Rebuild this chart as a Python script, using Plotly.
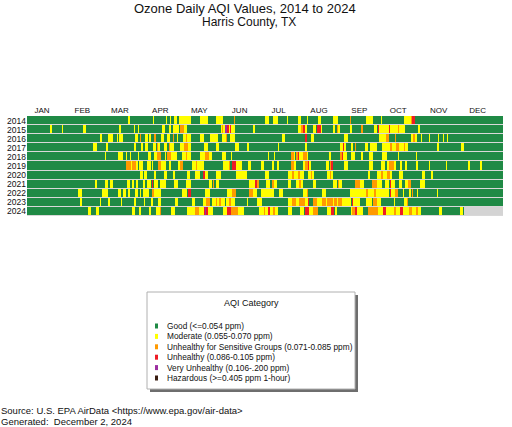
import plotly.graph_objects as go

W, H = 512, 427
FONT = "Liberation Sans, Arial, sans-serif"

years = ["2014", "2015", "2016", "2017", "2018", "2019", "2020", "2021", "2022", "2023", "2024"]
months = ["JAN", "FEB", "MAR", "APR", "MAY", "JUN", "JUL", "AUG", "SEP", "OCT", "NOV", "DEC"]
month_start = [1, 32, 61, 92, 122, 153, 183, 214, 245, 275, 306, 336]
n_days = 366

cat_codes = ["G", "M", "U", "R", "P", "H"]
cat_names = [
    "Good (<=0.054 ppm)",
    "Moderate (0.055-0.070 ppm)",
    "Unhealthy for Sensitive Groups (0.071-0.085 ppm)",
    "Unhealthy (0.086-0.105 ppm)",
    "Very Unhealthy (0.106-.200 ppm)",
    "Hazardous (>=0.405 ppm 1-hour)",
]
cat_colors = ["#1f8a45", "#ffff00", "#ff9a00", "#ee1c25", "#9c2fa0", "#3a1d10"]
missing_color = "#d4d4d4"

# days (day of year) that were not "Good"; everything else is Good
ep_2014 = ("79M 98M 108M 111M 114-115M 118-119M 120-126M 134-139M 146-151M 160U 184-186M 190-193M "
           "201M 209-211M 216M 225-226M 236-239M 249U 262-266M 273M 291-295M 296U 297-298R")
ep_2015 = ("19M 28M 44-45M 72M 83M 86M 105-106M 110-111M 113-117M 119-121U 122-123M 150M 151U 152M "
           "153-154P 155R 156M 157R 158-160M 175M 209-211M 212U 213-214R 215M 221-222M 224-226R 227M "
           "236-237M 239U 240-241M 249-250M 258U 268-269M 271R 272-278M 279R 280-285M 286U 287-291M 302M")
ep_2016 = ("57-58M 63-66M 70M 72-74M 84-85M 88U 92-93M 95M 99U 104-105M 109-110M 113U 116M 121-122M "
           "123U 124-126M 134-136M 142-147M 151-153M 154U 157-160M 197-198M 215R 219-221M 245-247M "
           "272-276M 277-278U 284U 296-300M 298U 304M 310M 317M 321M 324M")
ep_2017 = ("52-54M 62M 83-84M 89M 92-93M 98-99M 101U 102M 106-108M 110U 111-113M 119-121M 122-124U "
           "125-126M 137-139M 146-148M 161-163M 170-171M 194M 215M 242-243M 244R 245M 250-251M 253U "
           "261-262M 265-269M 274-279M 280-281U 282-284M 285-286U 287-290M 291U 292-293M 316-317M 335-336M")
ep_2018 = ("61M 71-74M 77M 80M 86M 94-95M 99-100M 101-103U 107M 109-111U 112-115M 120-122M 123U "
           "124-126M 134-137M 138-140U 141-142M 151-153M 158M 186M 191M 204-205U 206M 208U 209R "
           "210-212M 213-215U 216M 233-234M 242U 243R 244-246M 250-252M 258M 264-266M 274-276M 277M "
           "286M 300M")
ep_2019 = ("77-80U 81M 82-84U 85M 87-89M 93-95M 97M 102-103U 104-107M 110-111M 117-118M 119-120U "
           "128-130M 131U 132-136M 152-155M 156U 159-161R 162-165M 171-172M 181-182M 189-190M 193-194M "
           "204-205U 206-207M 213-214M 215-216U 217R 218M 231-232M 234U 235R 245-247M 264-266M "
           "273-275M 278M 279-282U 283-284M 288M 292M 300-301M 310M 323M 340-341M 349-350M")
ep_2020 = ("88-89M 91-92M 99M 106-108M 113-114M 124-125M 130-133M 136-137R 138-139M 146-149M "
           "162-169M 184-186M 202-204M 205U 206-208M 209-210U 211-213M 217-221M 219U 232-233M 234U "
           "235M 263-264M 270-272M 273-274U 275-277M 278-279U 280-281M 287-289M 305-306M 312M")
ep_2021 = ("53-54M 61-62M 65-66M 78-79M 82M 85M 90-91M 93-95M 97R 99-101M 103-107M 114-116M "
           "123-126M 141-142M 144U 146-148M 172-175M 176-177R 178U 185-187M 189-190U 191-192M "
           "202-203M 208-209M 210-211U 212M 221-222M 236-238M 240U 241-242M 253-256U 257-259M "
           "266-269U 270-273M 276-278M 280R 281-283M 287-288M 292-293M 294-295U 303-306M")
ep_2022 = ("40-42M 59-62M 71-72M 75-76M 79M 84-85M 88M 90-94M 97-98U 99-103M 120-123M 125-126R "
           "138-141M 155-158M 159-161U 172-174U 175-177M 181-190M 195-197M 213-215M 216U 228-230M "
           "249-275M 262U 268U 276-278M 280R 281-283M 284-285U 290M 295M 297U 301M 316M")
ep_2023 = ("42M 57M 63-64M 73M 83-84M 91M 96-97M 102-103M 115-116M 128-129M 136-138M 139-141U "
           "143-152M 146U 149U 154-160M 156-157U 170M 178-181M 202-204M 205-207U 208-209M 210-214U "
           "215-217M 217R 221-223U 224-227M 228-242U 231M 236M 239M 243-249M 251R 252-256M 262-265M "
           "267-269U 270-272M 283M 291-292M 293U")
ep_2024 = ("48-49M 54-55M 82-83M 87-88M 95M 100-102M 103U 112-114M 124-129M 130-132U 133-136M "
           "137-139R 138P 140-143M 152-154M 155-157R 158-162U 163-167M 179-182M 183U 184-185M "
           "186-187R 188-189M 190-191U 192-193M 202-204M 211-213M 215-217R 218-220M 221-224U "
           "232-234M 235-236R 238M 250M 251-252U 253-254R 255-258M 263-270U 271-274M 275-276R "
           "277-280M 281-282M 283-284U 285-287M 288-289R 290-294M 295-296U 297-299M 300-301U "
           "302-303M 318-319M 334-335M")
episodes = [ep_2014, ep_2015, ep_2016, ep_2017, ep_2018, ep_2019, ep_2020,
            ep_2021, ep_2022, ep_2023, ep_2024]
last_day = {"2024": 336}


def build_row(spec, last):
    row = [1] * n_days
    for tok in spec.split():
        rng, code = tok[:-1], tok[-1]
        a, _, b = rng.partition("-")
        a = int(a)
        b = int(b) if b else a
        for d in range(a, b + 1):
            row[d - 1] = cat_codes.index(code) + 1
    for d in range(last, n_days):
        row[d] = 0
    return row


z = [build_row(ep, last_day.get(yr, n_days)) for yr, ep in zip(years, episodes)]

all_colors = [missing_color] + cat_colors
nc = len(all_colors)
colorscale = []
for i, c in enumerate(all_colors):
    colorscale.append([i / nc, c])
    colorscale.append([(i + 1) / nc, c])


def px(x):
    return x / W


def py(y):
    return 1 - y / H


def note(text, x, y, size, anchor="center"):
    return dict(text=text, x=px(x), y=py(y), xref="paper", yref="paper", xanchor=anchor,
                yanchor="middle", showarrow=False, borderpad=0,
                font=dict(size=size, color="#111"))


fig = go.Figure()
fig.add_trace(go.Heatmap(
    z=z, x=list(range(1, n_days + 1)), y=years,
    colorscale=colorscale, zmin=-0.5, zmax=nc - 0.5,
    showscale=False, ygap=1, hoverinfo="skip",
))

shapes = [
    # legend shadow and box
    dict(type="rect", xref="paper", yref="paper", x0=px(150), x1=px(358), y0=py(392), y1=py(295),
         fillcolor="#6e6e6e", line=dict(width=0), layer="below"),
    dict(type="rect", xref="paper", yref="paper", x0=px(147), x1=px(355), y0=py(389), y1=py(292),
         fillcolor="white", line=dict(color="#b0b0b0", width=1), layer="below"),
]
annotations = [
    note("Ozone Daily AQI Values, 2014 to 2024", 245, 8, 13),
    note("Harris County, TX", 249, 22, 12),
    note("AQI Category", 251, 303, 9),
    note("Source: U.S. EPA AirData &lt;https://www.epa.gov/air-data&gt;", 0, 410, 9.5, "left"),
    note("Generated:  December 2, 2024", 0, 421, 9.5, "left"),
]
for i, (name, col) in enumerate(zip(cat_names, cat_colors)):
    yc = 326 + i * 10.4
    shapes.append(dict(type="rect", xref="paper", yref="paper", x0=px(155), x1=px(158),
                       y0=py(yc + 2.5), y1=py(yc - 2.5), fillcolor=col, line=dict(width=0)))
    annotations.append(note(name, 166, yc, 8.3, "left"))

fig.update_layout(
    width=W, height=H,
    margin=dict(l=0, r=0, t=0, b=0),
    paper_bgcolor="white", plot_bgcolor="#d8d8d8",
    font=dict(family=FONT, color="#111"),
    showlegend=False,
    xaxis=dict(domain=[px(27), px(503)], range=[0.5, n_days + 0.5], side="top",
               tickvals=[m + 11 for m in month_start], ticktext=months,
               tickfont=dict(size=8), ticks="", showgrid=False, zeroline=False,
               showline=False, automargin=False),
    yaxis=dict(domain=[py(216), py(116)], type="category", autorange="reversed",
               tickmode="array", tickvals=years, ticktext=years,
               tickfont=dict(size=8.5), ticks="", showgrid=False, zeroline=False,
               showline=False, automargin=False),
    shapes=shapes, annotations=annotations,
)

fig.write_html("out.html", config={"displayModeBar": False},
               post_script="document.body.style.margin='0';document.body.style.padding='0';")
